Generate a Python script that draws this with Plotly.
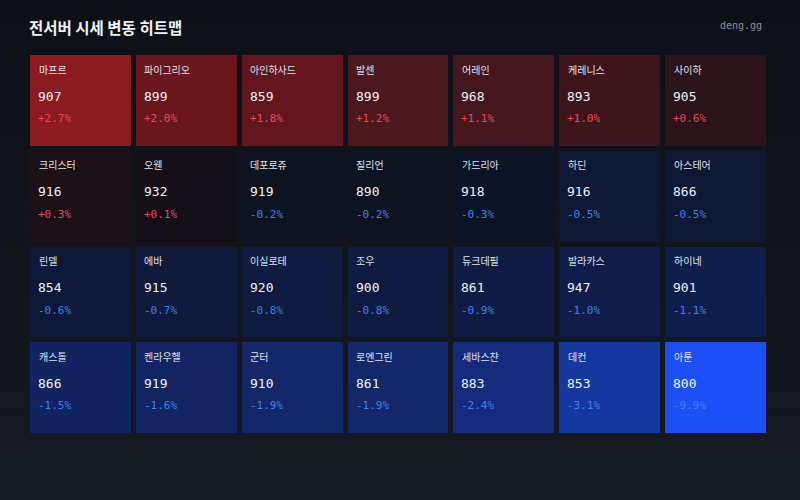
import plotly.graph_objects as go

# ---- data ----
names = ["마프르", "파이그리오", "아인하사드", "발센", "어레인", "케레니스", "사이하",
         "크리스터", "오웬", "데포로쥬", "질리언", "가드리아", "하딘", "아스테어",
         "린델", "에바", "이실로테", "조우", "듀크데필", "발라카스", "하이네",
         "캐스톨", "켄라우헬", "군터", "로엔그린", "세바스챤", "데컨", "아툰"]
prices = [907, 899, 859, 899, 968, 893, 905,
          916, 932, 919, 890, 918, 916, 866,
          854, 915, 920, 900, 861, 947, 901,
          866, 919, 910, 861, 883, 853, 800]
changes = [2.7, 2.0, 1.8, 1.2, 1.1, 1.0, 0.6,
           0.3, 0.1, -0.2, -0.2, -0.3, -0.5, -0.5,
           -0.6, -0.7, -0.8, -0.8, -0.9, -1.0, -1.1,
           -1.5, -1.6, -1.9, -1.9, -2.4, -3.1, -9.9]
n_cols = 7
n_rows = 4

title = "전서버 시세 변동 히트맵"
source = "deng.gg"

# ---- styling ----
W, H = 800, 500
M = dict(l=28, r=31, t=53, b=64)
zmin, zmax = min(changes), max(changes)

anchors = [(-9.9, "#1c4ff5"), (-3.1, "#1636a0"), (-2.4, "#142b7e"), (-1.9, "#132769"),
           (-1.5, "#122460"), (-1.0, "#101d48"), (-0.6, "#0e1939"), (-0.3, "#0d1326"),
           (-0.2, "#0e1322"), (0.0, "#100f17"), (0.1, "#120f17"), (0.3, "#1d1118"),
           (0.6, "#2c141b"), (1.0, "#3f151c"), (1.2, "#4b1820"), (1.8, "#63161e"),
           (2.0, "#6b161d"), (2.7, "#8c1a21")]
colorscale = [[(v - zmin) / (zmax - zmin), c] for v, c in anchors]
colorscale[0][0] = 0.0
colorscale[-1][0] = 1.0

z = [changes[r * n_cols:(r + 1) * n_cols] for r in range(n_rows)]

fig = go.Figure(go.Heatmap(
    z=z, x=list(range(n_cols)), y=list(range(n_rows)),
    colorscale=colorscale, zmin=zmin, zmax=zmax,
    xgap=5, ygap=5, showscale=False, hoverinfo="skip",
))

# gradient background
def hex2rgb(h):
    h = h.lstrip("#")
    return [int(h[i:i + 2], 16) for i in (0, 2, 4)]

top_c, bot_c = hex2rgb("#0d1016"), hex2rgb("#161a21")
plot_h = H - M["t"] - M["b"]
plot_w = W - M["l"] - M["r"]
N = 40
shapes = []
for i in range(N):
    py0 = i * H / N
    py1 = (i + 1) * H / N + 1
    f = (i + 0.5) / N
    col = [round(a + (b - a) * f) for a, b in zip(top_c, bot_c)]
    shapes.append(dict(
        type="rect", xref="paper", yref="paper", layer="below",
        x0=-M["l"] / plot_w - 0.01, x1=1 + M["r"] / plot_w + 0.01,
        y0=(H - M["b"] - py1) / plot_h, y1=(H - M["b"] - py0) / plot_h,
        line=dict(width=0), fillcolor="rgb(%d,%d,%d)" % tuple(col),
    ))

annotations = []
for i, (nm, p, ch) in enumerate(zip(names, prices, changes)):
    r, c = divmod(i, n_cols)
    x_left = c - 0.5
    y_top = r - 0.5
    annotations.append(dict(x=x_left, y=y_top, xref="x", yref="y", text=nm,
                            showarrow=False, xanchor="left", yanchor="middle",
                            xshift=8.5, yshift=-16,
                            font=dict(family="Noto Sans CJK KR", size=10, color="#dfe5ec")))
    annotations.append(dict(x=x_left, y=y_top, xref="x", yref="y", text=str(p),
                            showarrow=False, xanchor="left", yanchor="middle",
                            xshift=8, yshift=-43,
                            font=dict(family="DejaVu Sans Mono", size=13, color="#eef2f6")))
    pct = ("+" if ch > 0 else "") + f"{ch:.1f}%"
    annotations.append(dict(x=x_left, y=y_top, xref="x", yref="y", text=pct,
                            showarrow=False, xanchor="left", yanchor="middle",
                            xshift=8, yshift=-65.5,
                            font=dict(family="DejaVu Sans Mono", size=11,
                                      color="#ef4658" if ch > 0 else "#3d82ee")))

annotations.append(dict(x=27, y=H - 27.5, xref="paper", yref="paper", text="<b>" + title + "</b>",
                        showarrow=False, xanchor="left", yanchor="middle",
                        font=dict(family="Noto Sans CJK KR", size=15.5, color="#eef2f6")))
annotations.append(dict(x=764, y=H - 25, xref="paper", yref="paper", text=source,
                        showarrow=False, xanchor="right", yanchor="middle",
                        font=dict(family="DejaVu Sans Mono", size=10, color="#8b929b")))

# convert pixel-positioned title annotations to paper coords
for a in annotations[-2:]:
    a["x"] = (a["x"] - M["l"]) / plot_w
    a["y"] = (a["y"] - M["b"]) / plot_h

fig.update_layout(
    width=W, height=H, margin=M,
    paper_bgcolor="#11151b", plot_bgcolor="rgba(0,0,0,0)",
    xaxis=dict(range=[-0.5, n_cols - 0.5], visible=False, fixedrange=True),
    yaxis=dict(range=[n_rows - 0.5, -0.5], visible=False, fixedrange=True),
    shapes=shapes, annotations=annotations, showlegend=False,
)

fig.write_html("out.html", config={"displayModeBar": False})
